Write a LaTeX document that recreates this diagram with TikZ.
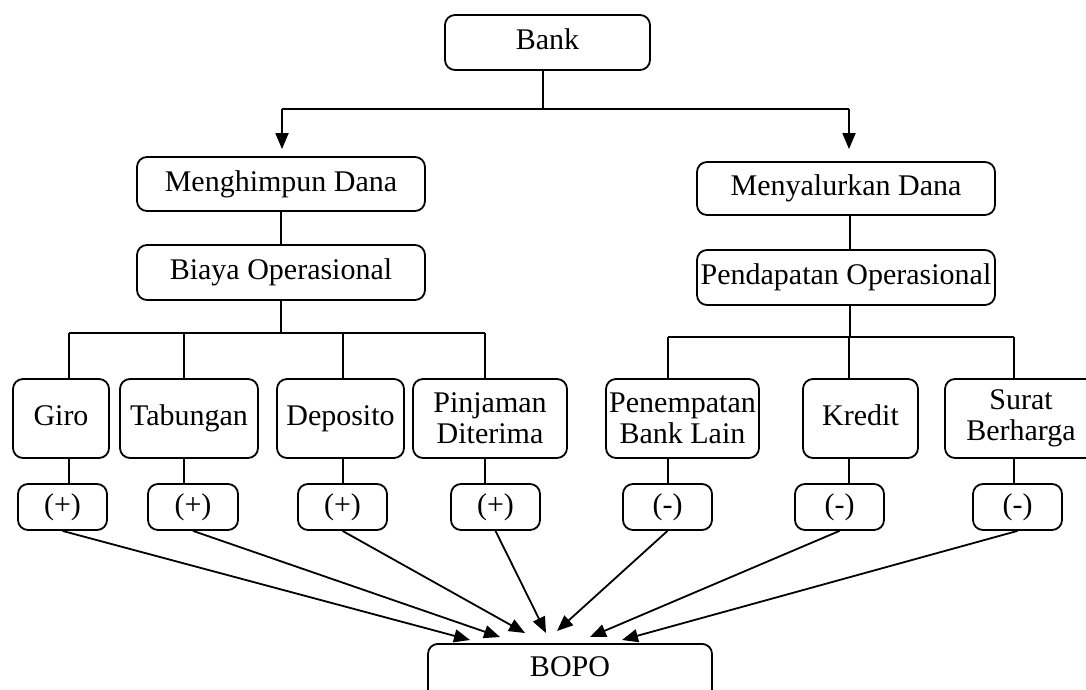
\documentclass[tikz,border=0pt]{standalone}
\usepackage{fontspec}
\setmainfont{Liberation Serif}
\usetikzlibrary{arrows.meta}
\begin{document}
\begin{tikzpicture}[x=1pt,y=-1pt,
  ln/.style={line width=1.8pt},
  arr/.style={line width=1.8pt,-{Triangle[length=16pt,width=13pt]}},
  box/.style={draw,line width=1.8pt,rounded corners=10pt,inner sep=0pt,
    align=center,font=\fontsize{30}{31}\selectfont},
  one/.style={text height=21pt,text depth=7pt}]
\useasboundingbox (0,0) rectangle (1086,690);
% top level
\node[box,one,minimum width=205pt,minimum height=55pt] (bank) at (547.5,42.5) {Bank};
\node[box,minimum width=288pt,minimum height=54pt] (mh) at (281,184) {Menghimpun Dana};
\node[box,minimum width=288pt,minimum height=55pt] (bo) at (281,272.5) {Biaya Operasional};
\node[box,minimum width=298pt,minimum height=53pt] (my) at (846,188.5) {Menyalurkan Dana};
\node[box,minimum width=298pt,minimum height=55pt] (pd) at (846,277.5) {Pendapatan Operasional};
% second row
\node[box,one,minimum width=96pt,minimum height=79pt] (giro) at (61,418.5) {Giro};
\node[box,one,minimum width=138pt,minimum height=79pt] (tab) at (189,418.5) {Tabungan};
\node[box,one,minimum width=127pt,minimum height=79pt] (dep) at (340.5,418.5) {Deposito};
\node[box,minimum width=154pt,minimum height=79pt] (pin) at (490,418.5) {Pinjaman\\Diterima};
\node[box,minimum width=153pt,minimum height=79pt] (pen) at (682.5,418.5) {Penempatan\\Bank Lain};
\node[box,one,minimum width=115pt,minimum height=79pt] (kre) at (860.5,418.5) {Kredit};
\node[box,minimum width=152pt,minimum height=79pt] (sur) at (1021,418.5) {Surat\\Berharga};
% sign boxes
\node[box,minimum width=89pt,minimum height=46pt] (p1) at (62.5,507) {(+)};
\node[box,minimum width=90pt,minimum height=46pt] (p2) at (193,507) {(+)};
\node[box,minimum width=89pt,minimum height=46pt] (p3) at (342.5,507) {(+)};
\node[box,minimum width=89pt,minimum height=46pt] (p4) at (495.5,507) {(+)};
\node[box,minimum width=89pt,minimum height=46pt] (m1) at (667.5,507) {(-)};
\node[box,minimum width=89pt,minimum height=46pt] (m2) at (839.5,507) {(-)};
\node[box,minimum width=89pt,minimum height=46pt] (m3) at (1017.5,507) {(-)};
% BOPO
\node[box,anchor=north,minimum width=284pt,text height=33pt,text depth=27pt] (bopo) at (570,643) {BOPO};
% coordinates
\coordinate (top) at (543,109);
\coordinate (tl) at (282,109);
\coordinate (tr) at (849,109);
\coordinate (bl) at (281,333);
\coordinate (brr) at (850,337);
\coordinate (c1) at (69,333);
\coordinate (c2) at (184,333);
\coordinate (c3) at (343,333);
\coordinate (c4) at (485,333);
\coordinate (c5) at (668,337);
\coordinate (c6) at (849,337);
\coordinate (c7) at (1014,337);
\coordinate (t1) at (470,640);
\coordinate (t2) at (500,637);
\coordinate (t3) at (525,633);
\coordinate (t4) at (546,633);
\coordinate (t5) at (557,631);
\coordinate (t6) at (590,637);
\coordinate (t7) at (622,640);
% tree connectors
\draw[ln] (bank.south -| top) -- (top);
\draw[ln] (tl) -- (tr);
\draw[arr,shorten >=7pt] (tl) -- (mh.north -| tl);
\draw[arr,shorten >=12pt] (tr) -- (my.north -| tr);
\draw[ln] (mh.south) -- (bo.north);
\draw[ln] (bo.south) -- (bl);
\draw[ln] (my.south -| brr) -- (pd.north -| brr);
\draw[ln] (pd.south -| brr) -- (brr);
\draw[ln] (c1) -- (c4);
\draw[ln] (c5) -- (c7);
\draw[ln] (c1) -- (c1 |- giro.north);
\draw[ln] (c2) -- (c2 |- tab.north);
\draw[ln] (c3) -- (c3 |- dep.north);
\draw[ln] (c4) -- (c4 |- pin.north);
\draw[ln] (c5) -- (c5 |- pen.north);
\draw[ln] (c6) -- (c6 |- kre.north);
\draw[ln] (c7) -- (c7 |- sur.north);
\draw[ln] (giro.south -| c1) -- (c1 |- p1.north);
\draw[ln] (tab.south -| c2) -- (c2 |- p2.north);
\draw[ln] (dep.south -| c3) -- (c3 |- p3.north);
\draw[ln] (pin.south -| c4) -- (c4 |- p4.north);
\draw[ln] (pen.south -| c5) -- (c5 |- m1.north);
\draw[ln] (kre.south -| c6) -- (c6 |- m2.north);
\draw[ln] (sur.south -| c7) -- (c7 |- m3.north);
% arrows to BOPO
\draw[arr] (p1.south) -- (t1);
\draw[arr] (p2.south) -- (t2);
\draw[arr] (p3.south) -- (t3);
\draw[arr] (p4.south) -- (t4);
\draw[arr] (m1.south) -- (t5);
\draw[arr] (m2.south) -- (t6);
\draw[arr] (m3.south) -- (t7);
\end{tikzpicture}
\end{document}
